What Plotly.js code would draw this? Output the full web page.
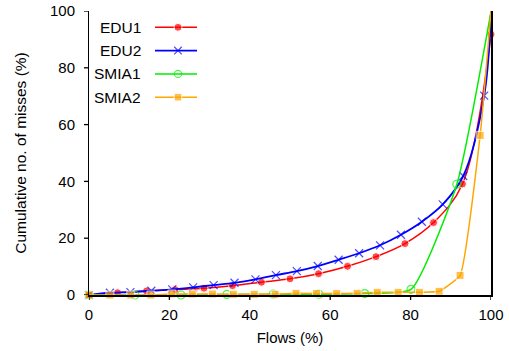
<!DOCTYPE html>
<html><head><meta charset="utf-8">
<script src="https://cdn.plot.ly/plotly-3.0.1.min.js"></script>
<style>html,body{margin:0;padding:0;background:#fff}#chart{width:509px;height:351px}</style>
</head><body><div id="chart"></div>
<script>
var seriesNames = ['EDU1', 'EDU2', 'SMIA1', 'SMIA2'];
var seriesColors = ['#ff0000', '#0000ff', '#00ee00', '#ffa500'];

var edu1X = [0, 7.1, 14.3, 21.4, 28.6, 35.7, 42.9, 50, 57.1, 64.3, 71.4, 78.6, 85.7, 92.9, 100];
var edu1Y = [0, 0.8, 1.4, 1.9, 2.4, 3.3, 4.5, 5.7, 7.5, 10.1, 13.5, 18.1, 25.5, 39.1, 91.8];

var edu2X = [0, 5.2, 10.3, 15.5, 20.7, 25.9, 31.0, 36.2, 41.4, 46.5, 51.7, 56.9, 62.1, 67.2, 72.4, 77.6, 82.8, 88.0, 93.1, 98.3, 100];
var edu2Y = [0, 0.8, 1.0, 1.5, 2.0, 2.7, 3.5, 4.3, 5.5, 7.0, 8.4, 10.2, 12.4, 14.7, 17.5, 21.2, 25.8, 31.9, 41.9, 70.2, 100];

var smia1X = [0, 11.4, 22.9, 34.3, 45.8, 57.2, 68.6, 80.1, 91.5, 100];
var smia1Y = [0, 0, 0, 0.2, 0.3, 0.3, 0.5, 2.0, 39.0, 99.8];

var smia2X = [0, 5.2, 10.4, 15.4, 20.6, 25.7, 30.7, 35.9, 41.1, 46.3, 51.5, 56.6, 61.6, 66.7, 71.7, 76.9, 82.2, 87.1, 92.3, 97.3, 100];
var smia2Y = [0, 0, 0, 0, 0.35, 0.35, 0.35, 0.25, 0.25, 0.25, 0.6, 0.5, 0.5, 0.6, 0.95, 0.95, 0.95, 1.3, 6.9, 56.2, 100];

var xTicks = [0, 20, 40, 60, 80, 100];
var yTicks = [0, 20, 40, 60, 80, 100];

var FONT = "Arial, 'Liberation Sans', Helvetica, sans-serif";

function sizes(n, s, lastHidden) {
  var a = [];
  for (var i = 0; i < n; i++) a.push(s);
  if (lastHidden) a[n - 1] = 0;
  return a;
}

var traces = [
  {x: edu1X, y: edu1Y, mode: 'lines+markers', line: {color: seriesColors[0], width: 1.5, shape: 'spline', smoothing: 1},
   marker: {symbol: 'circle', size: sizes(edu1X.length, 8, false), color: seriesColors[0]}},
  {x: edu2X, y: edu2Y, mode: 'lines+markers', line: {color: seriesColors[1], width: 1.8, shape: 'spline', smoothing: 1},
   marker: {symbol: 'x-thin', size: sizes(edu2X.length, 8, true), line: {color: seriesColors[1], width: 1.2}}},
  {x: smia1X, y: smia1Y, mode: 'lines+markers', line: {color: seriesColors[2], width: 1.5, shape: 'spline', smoothing: 0.5},
   marker: {symbol: 'circle-open', size: sizes(smia1X.length, 8, true), color: seriesColors[2], line: {width: 1.2}}},
  {x: smia2X, y: smia2Y, mode: 'lines+markers', line: {color: seriesColors[3], width: 1.5, shape: 'spline', smoothing: 0.4},
   marker: {symbol: 'square', size: sizes(smia2X.length, 8, true), color: seriesColors[3]}}
];
traces.forEach(function (t, i) {
  t.name = '';
  t.legendgroup = 'g' + i;
  t.cliponaxis = false;
  t.hoverinfo = 'x+y';
});

var labelY = [0.9426, 0.860, 0.7806, 0.696];
var annotations = seriesNames.map(function (n, i) {
  return {text: n, xref: 'paper', yref: 'paper', x: 0.1347, y: labelY[i],
          xanchor: 'right', yanchor: 'middle', showarrow: false,
          font: {family: FONT, size: 15.5, color: '#000'}};
});

// visible short outside tick marks (labels are pushed out by long transparent ticks)
var shapes = [];
xTicks.forEach(function (v) {
  shapes.push({type: 'line', xref: 'x', yref: 'paper', x0: v, x1: v, ysizemode: 'pixel', yanchor: 0, y0: 0, y1: -5,
               line: {color: '#000', width: 1.3}});
});
yTicks.forEach(function (v) {
  shapes.push({type: 'line', yref: 'y', xref: 'paper', y0: v, y1: v, xsizemode: 'pixel', xanchor: 0, x0: 0, x1: -5,
               line: {color: '#000', width: 1.3}});
});

var layout = {
  width: 509, height: 351,
  margin: {l: 89, r: 18, t: 11, b: 56},
  paper_bgcolor: '#fff', plot_bgcolor: '#fff',
  font: {family: FONT, size: 15, color: '#000'},
  showlegend: true,
  legend: {x: 0.15, y: 0.99, xanchor: 'left', yanchor: 'top', traceorder: 'grouped', tracegroupgap: 0,
           itemwidth: 46, bgcolor: 'rgba(0,0,0,0)', font: {family: FONT, size: 15}},
  annotations: annotations,
  shapes: shapes,
  xaxis: {range: [0, 100], tickvals: xTicks, ticktext: xTicks.map(String), ticks: 'outside', ticklen: 15,
          tickcolor: 'rgba(0,0,0,0)',
          showline: true, linecolor: '#000', linewidth: 1.5, mirror: false, showgrid: false, zeroline: false,
          title: {text: 'Flows (%)', standoff: 8.5, font: {size: 15}}},
  yaxis: {range: [0, 100], tickvals: yTicks, ticktext: yTicks.map(String), ticks: 'outside', ticklen: 13,
          tickcolor: 'rgba(0,0,0,0)',
          showline: true, linecolor: '#000', linewidth: 1.5, mirror: true, showgrid: false, zeroline: false,
          title: {text: 'Cumulative no. of misses (%)', standoff: 18, font: {size: 15.5}}}
};

function rectOf(el) { return el ? el.getBoundingClientRect() : null; }
function findText(gd, sel, txt) {
  var els = gd.querySelectorAll(sel);
  for (var i = 0; i < els.length; i++) if (els[i].textContent === txt) return els[i];
  return els[0] || null;
}
function legendLines(gd) {
  var items = gd.querySelectorAll('.legend .traces');
  return Array.prototype.map.call(items, function (it) {
    return rectOf(it.querySelector('.legendlines path'));
  });
}

Plotly.newPlot('chart', traces, layout, {staticPlot: true, displayModeBar: false}).then(function (gd) {
  // calibrate tick label placement to the reference
  var xr = rectOf(findText(gd, '.xtick text', '0'));
  var yr = rectOf(findText(gd, '.ytick text', '100'));
  var upd = {};
  if (xr) upd['xaxis.ticklen'] = Math.max(0, gd._fullLayout.xaxis.ticklen + (306.2 - xr.top));
  if (yr) upd['yaxis.ticklen'] = Math.max(0, gd._fullLayout.yaxis.ticklen + (yr.right - 75));
  return Plotly.relayout(gd, upd).then(function () {
    var xt = rectOf(gd.querySelector('.xtitle'));
    var yt = rectOf(gd.querySelector('.ytitle'));
    var u2 = {};
    if (xt) u2['xaxis.title.standoff'] = Math.max(0, 8.5 + (337.6 - (xt.top + xt.bottom) / 2));
    if (yt) u2['yaxis.title.standoff'] = Math.max(0, 18 + ((yt.left + yt.right) / 2 - 20.75));
    return Plotly.relayout(gd, u2);
  }).then(function () {
    var m = legendLines(gd);
    if (!m.length || !m[0]) return;
    var iw = Math.max(30, 46 + (42 - m[0].width));
    return Plotly.relayout(gd, {'legend.itemwidth': iw}).then(function () {
      var m2 = legendLines(gd);
      var cy = m2.map(function (r) { return (r.top + r.bottom) / 2; });
      var sp = (cy[3] - cy[0]) / 3;
      return Plotly.relayout(gd, {'legend.tracegroupgap': Math.max(0, 23.3 - sp)});
    }).then(function () {
      var m3 = legendLines(gd);
      var dx = 155 - m3[0].left;
      var dy = ((m3[0].top + m3[0].bottom) / 2) - 27.3;
      return Plotly.relayout(gd, {'legend.x': 0.15 + dx / 402, 'legend.y': 0.99 + dy / 284});
    });
  });
});
</script></body></html>
